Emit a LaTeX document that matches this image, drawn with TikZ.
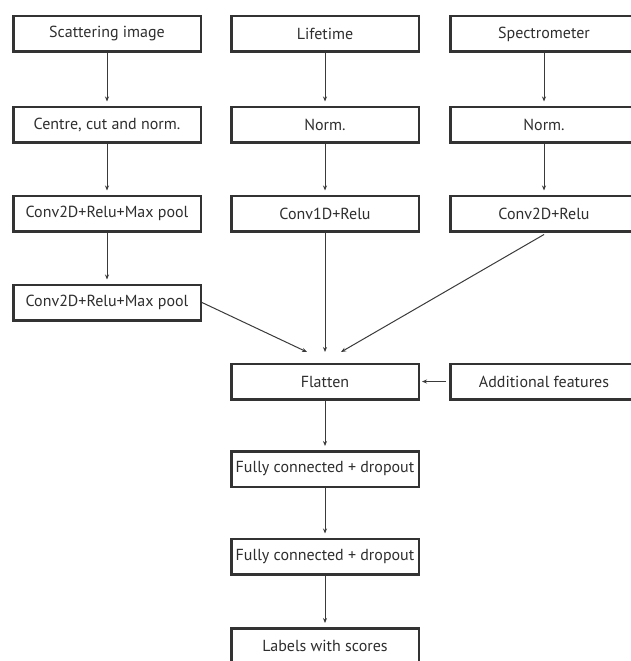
\documentclass[tikz,border=0pt]{standalone}
\usepackage{fontspec}
\setmainfont{PT Sans}
\usetikzlibrary{arrows.meta}
\definecolor{boxc}{HTML}{333333}
\definecolor{linec}{HTML}{3A3A3A}
\definecolor{txtc}{HTML}{2E2E2E}
\begin{document}
\begin{tikzpicture}[x=1pt,y=-1pt,
  box/.style={draw=boxc,line width=2.5pt,minimum width=187.5pt,minimum height=35.5pt,
    inner sep=0pt,font=\fontsize{16}{19}\selectfont,text=txtc},
  arr/.style={draw=linec,line width=1pt,-{Stealth[length=5pt,width=4pt]}}]
\useasboundingbox (0,0) rectangle (630,661);
% left column
\node[box] (scat) at (107,34) {Scattering image};
\node[box] (ccn)  at (107,124.5) {Centre, cut and norm.};
\node[box] (c2a)  at (107,213.5) {Conv2D+Relu+Max pool};
\node[box] (c2b)  at (107,302.5) {Conv2D+Relu+Max pool};
% middle column
\node[box] (life) at (325,34) {Lifetime};
\node[box] (nm)   at (325,124.5) {Norm.};
\node[box] (c1d)  at (325,213.5) {Conv1D+Relu};
\node[box] (flat) at (325,381.5) {Flatten};
\node[box] (fc1)  at (325,469) {Fully connected + dropout};
\node[box] (fc2)  at (325,556.5) {Fully connected + dropout};
\node[box] (lab)  at (325,646) {Labels with scores};
% right column
\node[box] (spec) at (544,34) {Spectrometer};
\node[box] (nr)   at (544,124.5) {Norm.};
\node[box] (c2r)  at (544,213.5) {Conv2D+Relu};
\node[box] (addf) at (544,381.5) {Additional features};
% arrow ends
\coordinate (inL) at (307,352);
\coordinate (inM) at (325,352);
\coordinate (inR) at (341,352);
% connectors
\draw[arr,shorten >=4pt] (scat) -- (ccn);
\draw[arr,shorten >=4pt] (ccn) -- (c2a);
\draw[arr,shorten >=4pt] (c2a) -- (c2b);
\draw[arr,shorten >=4pt] (life) -- (nm);
\draw[arr,shorten >=4pt] (nm) -- (c1d);
\draw[arr,shorten >=4pt] (spec) -- (nr);
\draw[arr,shorten >=4pt] (nr) -- (c2r);
\draw[arr] (c2b.east) -- (inL);
\draw[arr] (c1d.south) -- (inM);
\draw[arr] ([yshift=-2pt]c2r.south) -- (inR);
\draw[arr,shorten <=3pt,shorten >=2pt] (addf.west) -- (flat.east);
\draw[arr,shorten >=4pt] (flat) -- (fc1);
\draw[arr,shorten >=4pt] (fc1) -- (fc2);
\draw[arr,shorten >=4pt] (fc2) -- (lab);
\end{tikzpicture}
\end{document}
